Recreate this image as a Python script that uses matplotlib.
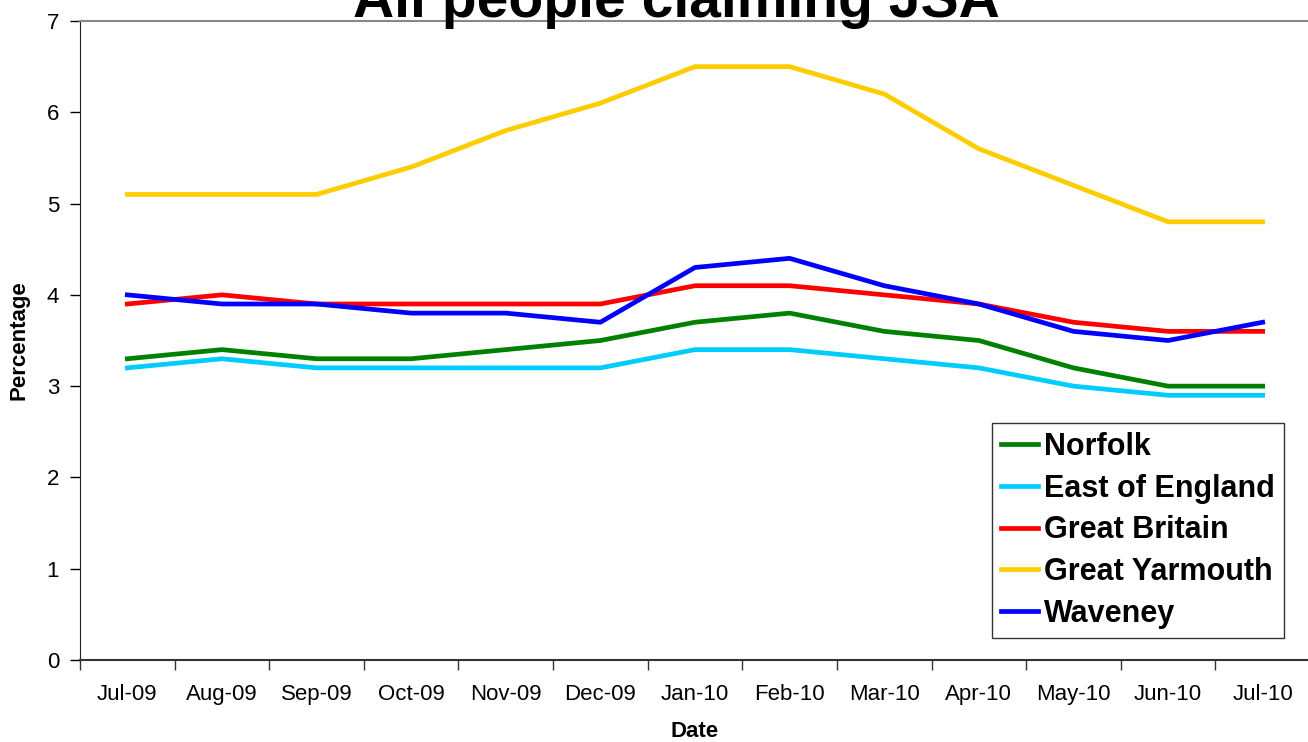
import matplotlib
matplotlib.use('Agg')
import matplotlib.pyplot as plt

plt.rcParams['font.family'] = ['Liberation Sans', 'DejaVu Sans']

months = ['Jul-09', 'Aug-09', 'Sep-09', 'Oct-09', 'Nov-09', 'Dec-09', 'Jan-10',
          'Feb-10', 'Mar-10', 'Apr-10', 'May-10', 'Jun-10', 'Jul-10']

norfolk = [3.3, 3.4, 3.3, 3.3, 3.4, 3.5, 3.7, 3.8, 3.6, 3.5, 3.2, 3.0, 3.0]
east_england = [3.2, 3.3, 3.2, 3.2, 3.2, 3.2, 3.4, 3.4, 3.3, 3.2, 3.0, 2.9, 2.9]
great_britain = [3.9, 4.0, 3.9, 3.9, 3.9, 3.9, 4.1, 4.1, 4.0, 3.9, 3.7, 3.6, 3.6]
great_yarmouth = [5.1, 5.1, 5.1, 5.4, 5.8, 6.1, 6.5, 6.5, 6.2, 5.6, 5.2, 4.8, 4.8]
waveney = [4.0, 3.9, 3.9, 3.8, 3.8, 3.7, 4.3, 4.4, 4.1, 3.9, 3.6, 3.5, 3.7]

series = [
    ('Norfolk', norfolk, '#008000'),
    ('East of England', east_england, '#00CCFF'),
    ('Great Britain', great_britain, '#FF0000'),
    ('Great Yarmouth', great_yarmouth, '#FFCC00'),
    ('Waveney', waveney, '#0000FF'),
]

W, H = 1308, 742
fig = plt.figure(figsize=(W / 100, H / 100), dpi=100)
# plot area: x 80..1310 px, y 21..660 px
ax = fig.add_axes([80 / W, 1 - 660 / H, 1230 / W, 639 / H])

x = list(range(len(months)))
for name, vals, col in series:
    ax.plot(x, vals, color=col, lw=3.4, label=name)

ax.set_xlim(-0.5, len(months) - 0.5)
ax.set_ylim(0, 7)
ax.set_yticks(range(0, 8))

# category labels at centres, tick marks at boundaries
ax.set_xticks(x)
ax.set_xticklabels(months, fontsize=16)
ax.set_xticks([i - 0.5 for i in range(len(months) + 1)], minor=True)
ax.tick_params(axis='x', which='major', length=0, pad=17)
ax.tick_params(axis='x', which='minor', length=7, width=1, direction='out', color='#333333')
ax.tick_params(axis='y', length=7, width=1, direction='out', labelsize=16, pad=8)

ax.spines['right'].set_visible(False)
ax.spines['top'].set_color('#888888')
ax.spines['top'].set_linewidth(1.5)
ax.spines['bottom'].set_color('#333333')
ax.spines['bottom'].set_linewidth(1.5)
ax.spines['left'].set_color('#222222')

ax.set_xlabel('Date', fontsize=16, fontweight='bold', labelpad=12)
ax.set_ylabel('Percentage', fontsize=16, fontweight='bold', labelpad=12)

fig.text(676 / W, 1 - 17 / H, 'All people claiming JSA', fontsize=41,
         fontweight='bold', ha='center', va='baseline')

leg = ax.legend(loc='upper left', bbox_to_anchor=((992 - 80) / 1230, (660 - 423) / 639),
                prop={'size': 22, 'weight': 'bold'}, frameon=True, fancybox=False,
                edgecolor='black', handlelength=1.2, handletextpad=0.2,
                labelspacing=0.38, borderpad=0.3, borderaxespad=0)
leg.get_frame().set_linewidth(1)

fig.savefig('out.png', dpi=100)
